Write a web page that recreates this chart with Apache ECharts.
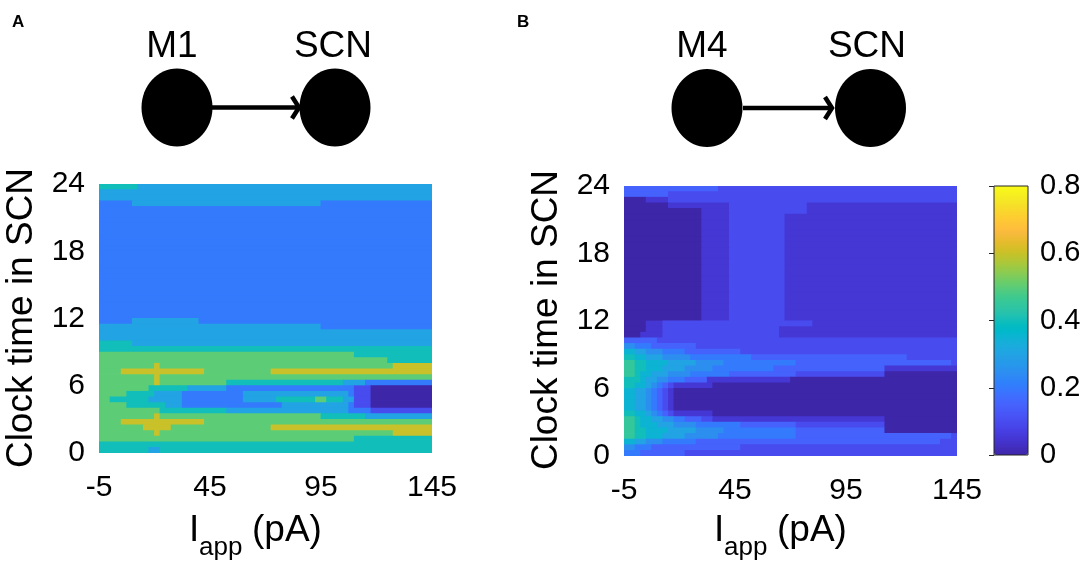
<!DOCTYPE html>
<html>
<head>
<meta charset="utf-8">
<script src="https://cdn.jsdelivr.net/npm/echarts@6/dist/echarts.min.js"></script>
<style>
  html, body { margin: 0; padding: 0; background: #ffffff; }
  #chart { width: 1084px; height: 570px; }
</style>
</head>
<body>
<div id="chart"></div>
<script>
// ---------------- data ----------------
// tick labels
const iappTicks = [-5, 45, 95, 145];
const clockTicks = [0, 6, 12, 18, 24];
const colorbarTicks = [0, 0.2, 0.4, 0.6, 0.8];

// grid of the contour maps: I_app from -5 to 145 pA in 2.5 pA columns (60 columns),
// clock time from 24 h down to 0 h in 0.5 h rows (48 rows, first row = 23.5-24 h)
const iappMin = -5, iappMax = 145, iappStep = 2.5;
const clockMin = 0, clockMax = 24, clockStep = 0.5;

// Each row: "band:lastColumn,band:lastColumn,...".
// Cell value = band * bandStep (lower edge of the filled contour band).
const bandStepA = 0.1;
const rowsA = [
  "4:6,3:59",
  "3:59",
  "3:59",
  "2:5,3:39,2:59",
  "2:59","2:59","2:59","2:59","2:59","2:59","2:59","2:59","2:59","2:59",
  "2:59","2:59","2:59","2:59","2:59","2:59","2:59","2:59","2:59","2:59",
  "2:5,3:17,2:59",
  "3:39,2:59",
  "3:59",
  "3:59",
  "4:5,3:59",
  "4:59",
  "5:45,4:59",
  "5:51,4:59",
  "5:9,6:10,5:52,6:59",
  "5:3,6:18,5:30,6:59",
  "5:9,6:10,5:59",
  "5:9,6:10,5:22,4:43,3:47,2:59",
  "5:8,4:15,3:22,2:45,1:48,0:59",
  "5:4,4:9,3:14,2:25,3:44,2:45,1:48,0:59",
  "5:1,4:8,3:14,2:25,3:31,4:38,5:40,4:43,3:45,1:48,0:59",
  "5:4,4:11,3:14,2:32,3:44,2:45,1:48,0:59",
  "5:10,4:22,3:44,2:48,1:59",
  "5:9,6:10,5:39,4:47,3:59",
  "5:3,6:18,5:59",
  "5:7,6:12,5:30,6:59",
  "5:9,6:10,5:52,6:59",
  "5:45,4:59",
  "4:59",
  "4:8,3:10,4:59"
];

const bandStepB = 0.05;
const rowsB = [
  "3:16,2:59",
  "3:7,2:59",
  "0:3,1:7,2:59",
  "0:7,1:18,2:32,1:59",
  "0:13,1:18,2:32,1:59",
  "0:13,1:18,2:28,1:59","0:13,1:18,2:28,1:59","0:13,1:18,2:28,1:59","0:13,1:18,2:28,1:59",
  "0:13,1:18,2:28,1:59","0:13,1:18,2:28,1:59","0:13,1:18,2:28,1:59","0:13,1:18,2:28,1:59",
  "0:13,1:18,2:28,1:59","0:13,1:18,2:28,1:59","0:13,1:18,2:28,1:59","0:13,1:18,2:28,1:59",
  "0:13,1:18,2:28,1:59","0:13,1:18,2:28,1:59","0:13,1:18,2:28,1:59","0:13,1:18,2:28,1:59",
  "0:13,1:18,2:28,1:59","0:13,1:18,2:28,1:59","0:13,1:18,2:28,1:59",
  "0:3,1:6,2:33,1:59",
  "0:3,1:6,2:27,1:59",
  "0:2,1:6,2:27,1:59",
  "3:5,2:59",
  "5:1,4:4,3:12,2:59",
  "7:1,6:3,5:6,4:10,3:20,2:59",
  "8:1,7:3,6:6,5:11,4:22,3:50,2:59",
  "9:1,8:3,7:7,6:12,5:17,4:30,3:58,2:59",
  "9:1,8:3,7:6,6:10,5:15,4:26,3:46,1:59",
  "9:1,8:2,7:4,6:7,5:11,4:18,3:30,2:46,0:59",
  "8:2,7:3,6:5,5:7,4:10,3:14,1:29,0:59",
  "8:1,7:3,6:4,5:5,4:6,3:7,2:8,1:15,0:59",
  "7:1,6:3,5:4,4:5,3:6,2:7,1:8,0:59",
  "7:1,6:3,5:4,4:5,3:6,2:7,1:8,0:59",
  "7:1,6:3,5:4,4:5,3:6,2:7,1:8,0:59",
  "7:1,6:3,5:4,4:5,3:6,2:7,1:8,0:59",
  "8:1,7:3,6:4,5:5,4:6,3:7,2:8,1:15,0:59",
  "9:1,8:2,7:4,6:6,5:8,4:10,3:13,2:15,1:46,0:59",
  "9:1,8:2,7:5,6:8,5:12,4:20,3:30,2:46,0:59",
  "9:1,8:3,7:7,6:12,5:17,4:30,3:46,0:59",
  "9:1,8:3,7:6,6:10,5:16,4:30,3:58,2:59",
  "7:1,6:3,5:6,4:12,3:56,2:59",
  "5:1,4:4,3:20,2:59",
  "4:2,3:10,2:59"
];

// ---------------- style ----------------
const parula = [
[0.2422,0.1504,0.6603],[0.2504,0.1650,0.7076],[0.2578,0.1818,0.7511],[0.2647,0.1978,0.7952],
[0.2706,0.2147,0.8364],[0.2751,0.2342,0.8710],[0.2783,0.2559,0.8991],[0.2803,0.2782,0.9221],
[0.2813,0.3006,0.9414],[0.2810,0.3228,0.9579],[0.2795,0.3447,0.9717],[0.2760,0.3667,0.9829],
[0.2699,0.3892,0.9906],[0.2602,0.4123,0.9952],[0.2440,0.4358,0.9988],[0.2206,0.4603,0.9973],
[0.1963,0.4847,0.9892],[0.1834,0.5074,0.9798],[0.1786,0.5289,0.9682],[0.1764,0.5499,0.9520],
[0.1687,0.5703,0.9359],[0.1540,0.5902,0.9218],[0.1460,0.6091,0.9079],[0.1380,0.6276,0.8973],
[0.1248,0.6459,0.8883],[0.1113,0.6635,0.8763],[0.0952,0.6798,0.8598],[0.0689,0.6948,0.8394],
[0.0297,0.7082,0.8163],[0.0036,0.7203,0.7917],[0.0067,0.7312,0.7660],[0.0433,0.7411,0.7394],
[0.0964,0.7500,0.7120],[0.1408,0.7584,0.6842],[0.1717,0.7670,0.6554],[0.1938,0.7758,0.6251],
[0.2161,0.7843,0.5923],[0.2470,0.7918,0.5567],[0.2906,0.7973,0.5188],[0.3406,0.8008,0.4789],
[0.3909,0.8029,0.4354],[0.4456,0.8024,0.3909],[0.5044,0.7993,0.3480],[0.5616,0.7942,0.3045],
[0.6174,0.7876,0.2612],[0.6720,0.7793,0.2227],[0.7242,0.7698,0.1910],[0.7738,0.7598,0.1646],
[0.8203,0.7498,0.1535],[0.8634,0.7406,0.1596],[0.9035,0.7330,0.1774],[0.9393,0.7288,0.2100],
[0.9728,0.7298,0.2394],[0.9956,0.7434,0.2371],[0.9970,0.7659,0.2199],[0.9952,0.7893,0.2028],
[0.9892,0.8136,0.1885],[0.9786,0.8386,0.1766],[0.9676,0.8639,0.1643],[0.9610,0.8890,0.1537],
[0.9597,0.9135,0.1423],[0.9628,0.9373,0.1265],[0.9691,0.9606,0.1064],[0.9769,0.9839,0.0805]
];
const parulaHex = parula.map(c => '#' + c.map(v => Math.round(v * 255).toString(16).padStart(2, '0')).join(''));

const FONT = '"Liberation Sans", Arial, Helvetica, sans-serif';

function decodeRows(rows, bandStep) {
  const items = [];
  rows.forEach((row, i) => {
    const yTop = clockMax - i * clockStep;
    const yBottom = yTop - clockStep;
    let startCol = 0;
    row.split(',').forEach(seg => {
      const parts = seg.split(':').map(Number);
      const band = parts[0], endCol = parts[1];
      items.push([
        iappMin + startCol * iappStep,
        iappMin + (endCol + 1) * iappStep,
        yBottom, yTop,
        +(band * bandStep).toFixed(4)
      ]);
      startCol = endCol + 1;
    });
  });
  return items;
}
const dataA = decodeRows(rowsA, bandStepA);
const dataB = decodeRows(rowsB, bandStepB);

function renderCell(params, api) {
  const p0 = api.coord([api.value(0), api.value(3)]);
  const p1 = api.coord([api.value(1), api.value(2)]);
  return {
    type: 'rect',
    shape: { x: p0[0] - 0.4, y: p0[1] - 0.4, width: p1[0] - p0[0] + 0.8, height: p1[1] - p0[1] + 0.8 },
    style: { fill: api.visual('color'), stroke: null }
  };
}

function mapXAxis(gridIndex) {
  return {
    gridIndex, type: 'value', min: iappMin, max: iappMax, interval: 50,
    axisLine: { show: false }, axisTick: { show: false, customValues: iappTicks }, splitLine: { show: false },
    axisLabel: { customValues: iappTicks, fontSize: 30, color: '#000', fontFamily: FONT, margin: 20 }
  };
}
function mapYAxis(gridIndex) {
  return {
    gridIndex, type: 'value', min: clockMin, max: clockMax, interval: 6,
    axisLine: { show: false }, axisTick: { show: false, customValues: clockTicks }, splitLine: { show: false },
    axisLabel: { customValues: clockTicks, fontSize: 30, color: '#000', fontFamily: FONT, margin: 14 }
  };
}

function txt(x, y, text, size, opts) {
  return Object.assign({
    type: 'text', x, y, silent: true,
    style: Object.assign({ text, font: size + 'px ' + FONT, fill: '#000', textAlign: 'center', textVerticalAlign: 'middle' }, (opts && opts.style) || {})
  }, (opts && opts.el) || {});
}
function diagram(cxL, cxR, cy, lineFrom, lineTo, labelL, labelLX, labelRX, labelY) {
  return [
    { type: 'ellipse', shape: { cx: cxL, cy, rx: 35.5, ry: 39 }, style: { fill: '#000' }, silent: true },
    { type: 'ellipse', shape: { cx: cxR, cy, rx: 35.5, ry: 39 }, style: { fill: '#000' }, silent: true },
    { type: 'line', shape: { x1: lineFrom, y1: cy, x2: lineTo, y2: cy }, style: { stroke: '#000', lineWidth: 4.5 }, silent: true },
    { type: 'polyline', shape: { points: [[lineTo - 7, cy - 11], [lineTo, cy], [lineTo - 7, cy + 11]] }, style: { stroke: '#000', lineWidth: 4.5, fill: null }, silent: true },
    txt(labelLX, labelY, labelL, 37),
    txt(labelRX, labelY, 'SCN', 37)
  ];
}
function xTitle(left) {
  return [
    txt(left, 531, 'I', 37, { style: { textAlign: 'left' } }),
    txt(left + 10, 548, 'app', 26, { style: { textAlign: 'left' } }),
    txt(left + 63, 531, '(pA)', 37, { style: { textAlign: 'left' } })
  ];
}

const graphics = [].concat(
  [txt(12, 22, 'A', 17, { style: { textAlign: 'left', font: 'bold 17px ' + FONT } }),
   txt(517, 22, 'B', 17, { style: { textAlign: 'left', font: 'bold 17px ' + FONT } })],
  diagram(177, 335, 107.5, 212, 299, 'M1', 172, 333, 47),
  diagram(707, 870.5, 108, 743, 832, 'M4', 702, 867, 47),
  xTitle(189),
  xTitle(714),
  [txt(22, 318, 'Clock time in SCN', 37, { el: { rotation: Math.PI / 2 } }),
   txt(547, 320, 'Clock time in SCN', 37, { el: { rotation: Math.PI / 2 } })]
);

const chart = echarts.init(document.getElementById('chart'), null, { renderer: 'canvas' });
chart.setOption({
  animation: false,
  backgroundColor: '#ffffff',
  textStyle: { fontFamily: FONT },
  grid: [
    { left: 99, top: 184, width: 333, height: 269 },
    { left: 624, top: 186, width: 333, height: 270 },
    { left: 994, top: 186, width: 34, height: 269, show: true, borderColor: '#262626', borderWidth: 1, backgroundColor: 'rgba(0,0,0,0)', z: 10 }
  ],
  xAxis: [
    mapXAxis(0), mapXAxis(1),
    { gridIndex: 2, type: 'value', min: 0, max: 1, show: false }
  ],
  yAxis: [
    mapYAxis(0), mapYAxis(1),
    { gridIndex: 2, type: 'value', position: 'right', min: 0, max: 0.8, interval: 0.2,
      axisLine: { show: false }, splitLine: { show: false },
      axisTick: { show: true, inside: true, length: 5, lineStyle: { color: '#262626', width: 1 }, customValues: colorbarTicks },
      axisLabel: { customValues: colorbarTicks, fontSize: 29, color: '#000', fontFamily: FONT, margin: 12 } }
  ],
  visualMap: {
    type: 'continuous', min: 0, max: 0.8, dimension: 4, seriesIndex: [0, 1],
    inRange: { color: parulaHex },
    orient: 'vertical', left: 994, top: 186, itemWidth: 34, itemHeight: 269,
    padding: 0, calculable: false, hoverLink: false, text: null, showLabel: false,
    textStyle: { color: 'rgba(0,0,0,0)', fontSize: 1 }
  },
  series: [
    { type: 'custom', xAxisIndex: 0, yAxisIndex: 0, data: dataA, encode: { x: [0, 1], y: [2, 3] },
      renderItem: renderCell, silent: true, clip: true },
    { type: 'custom', xAxisIndex: 1, yAxisIndex: 1, data: dataB, encode: { x: [0, 1], y: [2, 3] },
      renderItem: renderCell, silent: true, clip: true }
  ],
  graphic: graphics
});
</script>
</body>
</html>
